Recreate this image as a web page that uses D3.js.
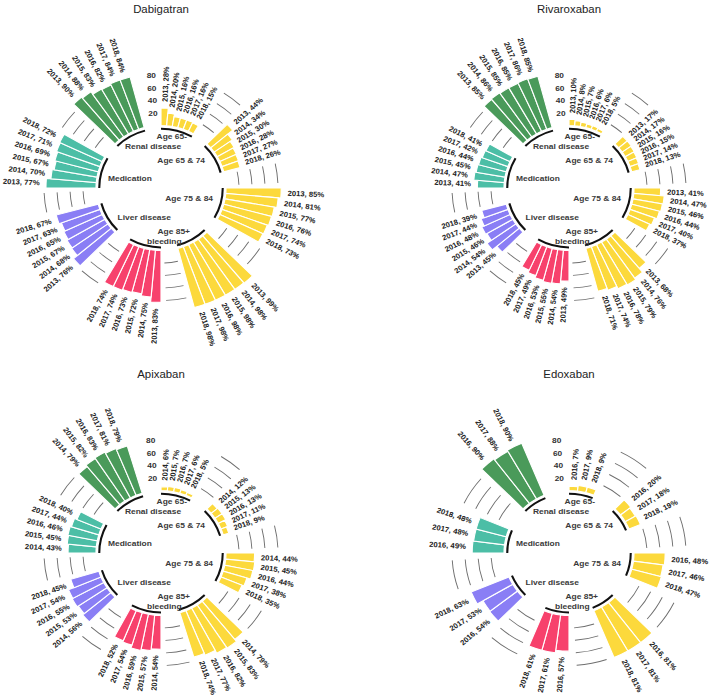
<!DOCTYPE html>
<html>
<head>
<meta charset="utf-8">
<script src="https://cdn.jsdelivr.net/npm/d3@7"></script>
<style>
  body { margin: 0; background: #fff; }
  svg { display: block; }
</style>
</head>
<body>
<svg id="chart" width="709" height="699"></svg>
<script>
// ---------------- DATA ----------------
const groups = ["Age 65-", "Age 65 & 74", "Age 75 & 84", "Age 85+", "bleeding", "Liver disease", "Medication", "Renal disease"];
const groupColors = ["#fcd93c", "#fcd93c", "#fcd93c", "#fcd93c", "#f7416c", "#8a7ef5", "#4cbea6", "#4a9a5a"];
const drugs = ["Dabigatran", "Rivaroxaban", "Apixaban", "Edoxaban"];

const dabigatranYears = [2013, 2014, 2015, 2016, 2017, 2018];
const dabigatranValues = [
  [28, 20, 16, 16, 16, 15],
  [44, 34, 30, 28, 27, 26],
  [85, 81, 77, 76, 74, 73],
  [99, 98, 98, 98, 98, 98],
  [83, 75, 72, 73, 74, 74],
  [76, 68, 67, 65, 63, 67],
  [77, 70, 67, 69, 71, 72],
  [90, 88, 83, 82, 84, 84]
];

const rivaroxabanYears = [2013, 2014, 2015, 2016, 2017, 2018];
const rivaroxabanValues = [
  [10, 8, 7, 6, 6, 5],
  [17, 17, 16, 15, 14, 13],
  [41, 47, 46, 44, 40, 37],
  [68, 76, 79, 78, 74, 71],
  [49, 54, 55, 53, 49, 45],
  [45, 54, 46, 48, 44, 39],
  [41, 47, 45, 44, 42, 41],
  [85, 86, 85, 85, 86, 85]
];

const apixabanYears = [2014, 2015, 2016, 2017, 2018];
const apixabanValues = [
  [6, 7, 7, 6, 5],
  [12, 13, 13, 11, 9],
  [44, 45, 44, 38, 35],
  [79, 83, 82, 77, 74],
  [54, 57, 59, 54, 52],
  [56, 53, 55, 54, 45],
  [43, 45, 46, 44, 40],
  [79, 82, 83, 81, 79]
];

const edoxabanYears = [2016, 2017, 2018];
const edoxabanValues = [
  [7, 9, 9],
  [20, 18, 19],
  [48, 46, 47],
  [81, 81, 81],
  [57, 61, 61],
  [54, 53, 63],
  [49, 48, 48],
  [90, 88, 90]
];

const tickValues = [20, 40, 60, 80];

// ---------------- LAYOUT ----------------
const font = "'Liberation Sans', Arial, Helvetica, sans-serif";
const emptySlots = 3;
const stretchX = 1.04;
const labelAngles = [26.1, 57.4, 102.4, 147.6, 194.0, 234.7, 280, 319.8];  // degrees
const labelRadii = [56.8, 50.2, 51.2, 52.1, 55.7, 51.2, 51.8, 53.65];     // px
const panelOrigin = {x: 161, y: 188, dx: 408, dy: 365};

const panels = [
  {name: drugs[0], years: dabigatranYears, values: dabigatranValues},
  {name: drugs[1], years: rivaroxabanYears, values: rivaroxabanValues},
  {name: drugs[2], years: apixabanYears, values: apixabanValues},
  {name: drugs[3], years: edoxabanYears, values: edoxabanValues}
];

const svg = d3.select("#chart");
svg.append("rect").attr("width", 709).attr("height", 699).attr("fill", "#fff");

const r = d3.scaleLinear().domain([-100, 120]).range([0, 137.5]);
const deg = a => a * 180 / Math.PI;
const rad = a => a * Math.PI / 180;

panels.forEach((p, k) => {
  const col = k % 2, row = Math.floor(k / 2);
  const cx = panelOrigin.x + col * panelOrigin.dx;
  const cy = panelOrigin.y + row * panelOrigin.dy;

  svg.append("text")
    .attr("x", cx).attr("y", cy - 179.5)
    .attr("text-anchor", "middle")
    .attr("dominant-baseline", "central")
    .attr("font-family", font)
    .attr("font-size", 11.4)
    .attr("fill", "#222")
    .text(p.name);

  const g = svg.append("g").attr("transform", `translate(${cx},${cy}) scale(${stretchX},1)`);

  const m = p.years.length;
  const per = m + emptySlots;
  const n = groups.length * per;
  const x = d3.scaleBand().domain(d3.range(n)).range([0, 2 * Math.PI]);
  const bw = x.bandwidth();

  const bars = [];
  groups.forEach((grp, gi) => {
    p.years.forEach((yr, j) => {
      bars.push({group: gi, year: yr, value: p.values[gi][j], id: gi * per + j});
    });
  });

  // grid arcs across the empty slots between groups
  const grid = [];
  for (let gi = 0; gi < groups.length - 1; gi++) {
    tickValues.forEach(t => grid.push({
      start: x(gi * per + m) + bw / 2,
      end: x((gi + 1) * per - 1) + bw / 2,
      t: t
    }));
  }
  g.append("g").selectAll("path").data(grid).join("path")
    .attr("d", d3.arc()
      .innerRadius(d => r(d.t) - 0.45)
      .outerRadius(d => r(d.t) + 0.45)
      .startAngle(d => d.start)
      .endAngle(d => d.end))
    .attr("fill", "#6e6e6e");

  // bars
  g.append("g").selectAll("path").data(bars).join("path")
    .attr("d", d3.arc()
      .innerRadius(r(0))
      .outerRadius(d => r(d.value))
      .startAngle(d => x(d.id))
      .endAngle(d => x(d.id) + bw))
    .attr("fill", d => groupColors[d.group])
    .attr("stroke", "#fff")
    .attr("stroke-width", 1.1);

  // bar labels
  g.append("g").selectAll("text").data(bars).join("text")
    .attr("transform", d => {
      const a = deg(x(d.id) + bw / 2);
      const base = `rotate(${a - 90}) translate(${r(d.value + 10)},0)`;
      return a < 180 ? base : base + " rotate(180)";
    })
    .attr("text-anchor", d => deg(x(d.id) + bw / 2) < 180 ? "start" : "end")
    .attr("dominant-baseline", "central")
    .attr("font-family", font)
    .attr("font-weight", "bold")
    .attr("font-size", 7.4)
    .attr("fill", "#222")
    .text(d => `${d.year}, ${d.value}%`);

  // black base arcs
  g.append("g").selectAll("path").data(groups).join("path")
    .attr("d", (grp, gi) => d3.arc()
      .innerRadius(r(-5) - 1)
      .outerRadius(r(-5) + 1)
      .startAngle(x(gi * per))
      .endAngle(x(gi * per + m - 1) + bw)())
    .attr("fill", "#111");

  // group labels
  g.append("g").selectAll("text").data(groups).join("text")
    .attr("x", (grp, gi) => labelRadii[gi] * Math.sin(rad(labelAngles[gi])))
    .attr("y", (grp, gi) => -labelRadii[gi] * Math.cos(rad(labelAngles[gi])))
    .attr("text-anchor", (grp, gi) => gi < 4 ? "end" : "start")
    .attr("dominant-baseline", "central")
    .attr("font-family", font)
    .attr("font-weight", "bold")
    .attr("font-size", 8.1)
    .attr("fill", "#3a3a3a")
    .text(grp => grp);

  // radial tick labels in the last slot
  const ta = x(n - 1) + bw / 2;
  g.append("g").selectAll("text").data(tickValues).join("text")
    .attr("x", t => r(t) * Math.sin(ta))
    .attr("y", t => -r(t) * Math.cos(ta))
    .attr("text-anchor", "end")
    .attr("dominant-baseline", "central")
    .attr("font-family", font)
    .attr("font-weight", "bold")
    .attr("font-size", 8)
    .attr("fill", "#333")
    .text(t => t);
});
</script>
</body>
</html>
